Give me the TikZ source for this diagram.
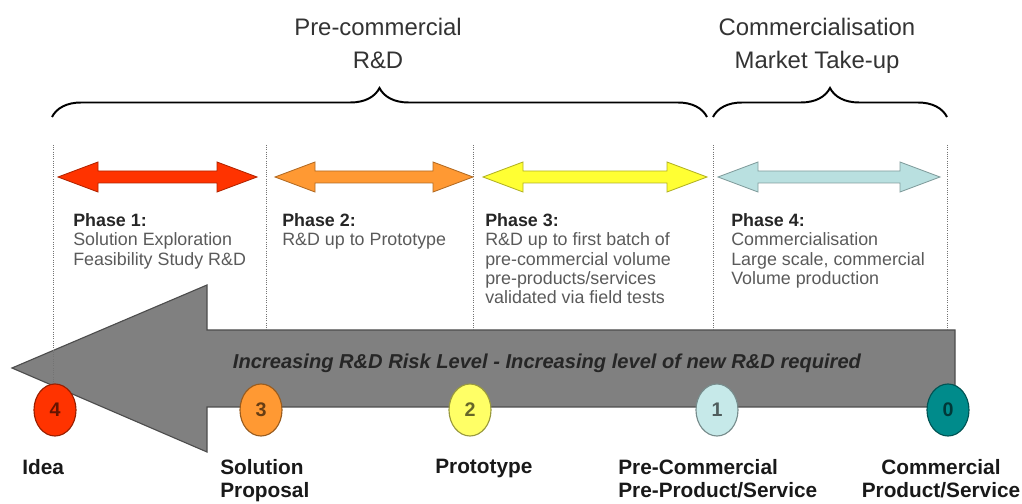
\documentclass[tikz,border=0pt]{standalone}
\usepackage{fontspec}
\setmainfont{Liberation Sans}
\usetikzlibrary{shapes.geometric,decorations.pathreplacing}
\definecolor{phred}{HTML}{FF3300}
\definecolor{phorange}{HTML}{FF9933}
\definecolor{phyellow}{HTML}{FFFF33}
\definecolor{phblue}{HTML}{B9E0E0}
\definecolor{dotyellow}{HTML}{FFFF66}
\definecolor{dotblue}{HTML}{C6E9E9}
\definecolor{dotteal}{HTML}{008B8B}
\definecolor{riskgrey}{HTML}{808080}
\definecolor{phgrey}{HTML}{5A5A5A}
\begin{document}
\begin{tikzpicture}[x=0.025cm,y=-0.025cm,
  phasearrow/.style={line width=0.6pt,line join=miter},
  phaseline/.style={densely dotted,line width=0.6pt,black!55},
  numdot/.style={ellipse,draw,line width=0.8pt,minimum width=1.05cm,minimum height=1.3cm,inner sep=0pt,font=\fontsize{14}{14}\selectfont\bfseries},
  phasetext/.style={anchor=north west,align=left,inner sep=0pt,text=phgrey,font=\fontsize{12.7}{13.8}\selectfont},
  steplabel/.style={anchor=north west,align=left,inner sep=0pt,text=black!90,font=\fontsize{14.8}{16.6}\selectfont\bfseries},
  toptitle/.style={anchor=north,align=center,inner sep=0pt,text=black!80,font=\fontsize{17}{23.3}\selectfont},
  bracket/.style={decorate,decoration={brace,amplitude=0.725cm},line width=1.4pt}]
\useasboundingbox (0,0) rectangle (1022,504);
% titles and braces
\node[toptitle] (precom) at (378,18) {Pre-commercial\\R\&D};
\node[toptitle] (comm) at (817,18) {Commercialisation\\Market Take-up};
\draw[bracket] (52,117) -- (707,117);
\draw[bracket] (713,117) -- (947,117);
% the big grey arrow
\draw[fill=riskgrey,draw=riskgrey!60!black,line width=0.8pt] (955,330) -- (207,330) -- (207,285) -- (12,368) -- (207,452) -- (207,407) -- (955,407) -- cycle;
\node[font=\fontsize{14.3}{14.3}\selectfont\bfseries\itshape,text=black!85] (risk) at (547,363) {Increasing R\&D Risk Level - Increasing level of new R\&D required};
\foreach \x in {266,473,713,947} % edit here for the dotted lines
\draw[phaseline] (\x,145) -- (\x,330);
\draw[phaseline] (53,145) -- (53,384);
\foreach \xa/\xb/\col in {58/257/phred,275/473/phorange,483/707/phyellow,718/940/phblue} % edit here for the phase arrows
\draw[phasearrow,fill=\col,draw=\col!70!black] (\xa,177) -- (\xa+40,162) -- (\xa+40,171) -- (\xb-40,171) -- (\xb-40,162) -- (\xb,177) -- (\xb-40,192) -- (\xb-40,183) -- (\xa+40,183) -- (\xa+40,192) -- cycle;
% phase texts
\node[phasetext] (ph1) at (73,213) {\textcolor{black!85}{\textbf{Phase 1:}}\\Solution Exploration\\Feasibility Study R\&D};
\node[phasetext] (ph2) at (282,213) {\textcolor{black!85}{\textbf{Phase 2:}}\\R\&D up to Prototype};
\node[phasetext] (ph3) at (485,213) {\textcolor{black!85}{\textbf{Phase 3:}}\\R\&D up to first batch of\\pre-commercial volume\\pre-products/services\\validated via field tests};
\node[phasetext] (ph4) at (731,213) {\textcolor{black!85}{\textbf{Phase 4:}}\\Commercialisation\\Large scale, commercial\\Volume production};
\foreach \n/\x/\col in {4/55/phred,3/261/phorange,2/470/dotyellow,1/717/dotblue,0/948/dotteal} % edit here for the numbered dots
\node[numdot,fill=\col,draw=\col!60!black,text=\col!40!black] (c\n) at (\x,410) {\n};
% labels under the dots
\node[steplabel] (idea) at (22,459) {Idea};
\node[steplabel] (solution) at (220,459) {Solution\\Proposal};
\node[steplabel] (proto) at (435,459) {Prototype};
\node[steplabel] (precomprod) at (618,459) {Pre-Commercial\\Pre-Product/Service};
\node[steplabel,anchor=north,align=center] (comprod) at (941,459) {Commercial\\Product/Service};
\end{tikzpicture}
\end{document}
